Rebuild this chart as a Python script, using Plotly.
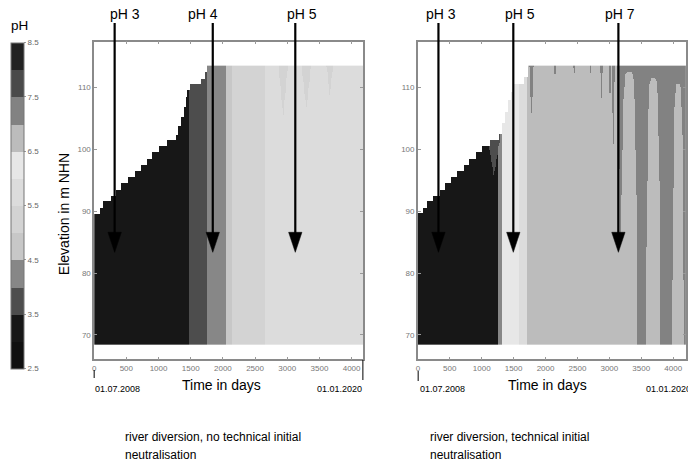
import numpy as np
import plotly.graph_objects as go

W, H = 688, 468
FONT = "Liberation Sans"

# ---------------- colour levels (pH) ----------------
ph_edges = [2.5, 3.0, 3.5, 4.0, 4.5, 5.0, 5.5, 6.0, 6.5, 7.0, 7.5, 8.0, 8.5]
ph_greys = ['#101010', '#171717', '#4d4d4d', '#878787', '#c7c7c7', '#d3d3d3',
            '#dcdcdc', '#e7e7e7', '#bcbcbc', '#828282', '#4a4a4a', '#222222']
cbar_ticks = [2.5, 3.5, 4.5, 5.5, 6.5, 7.5, 8.5]

day_ticks = [0, 500, 1000, 1500, 2000, 2500, 3000, 3500, 4000]
elev_ticks = [70, 80, 90, 100, 110]

# ---------------- left scenario: no technical initial neutralisation ----------------
left_step_day = [0, 87, 139, 257, 345, 422, 525, 628, 731, 824, 901, 1014, 1143,
                 1272, 1313, 1349, 1390, 1426, 1452, 1493, 1658, 1719, 1761]
left_step_lvl = [89.5, 90.5, 91.6, 92.5, 93.4, 94.5, 95.4, 96.4, 97.5, 98.4, 99.4,
                 100.4, 101.5, 102.3, 103.6, 105.3, 106.9, 108.5, 109.5, 110.4,
                 111.2, 112.5, 113.4]
left_band_start = [0, 1478, 1750, 2054, 2150, 2650]
left_band_ph = [3.2, 3.8, 4.2, 4.8, 5.3, 5.8]
# hanging plumes: centre day, half width, top level, tip level, pH
left_hang_c = [2940, 3300, 3665]
left_hang_w = [70, 70, 50]
left_hang_top = [113.4, 113.4, 113.4]
left_hang_tip = [105.0, 106.5, 108.7]
left_hang_ph = [5.3, 5.3, 5.3]
left_rise_c, left_rise_w, left_rise_top, left_rise_ph = [], [], [], []

# ---------------- right scenario: technical initial neutralisation ----------------
right_step_day = [0, 78, 140, 244, 337, 431, 519, 623, 727, 805, 908, 1012, 1127,
                  1272, 1320, 1370, 1420, 1460, 1505, 1661, 1729]
right_step_lvl = [89.6, 90.5, 91.6, 92.5, 93.4, 94.5, 95.4, 96.4, 97.5, 98.4, 99.4,
                  100.4, 101.5, 102.5, 104.3, 106.0, 107.8, 109.3, 110.4, 111.6, 113.4]
right_band_start = [0, 1246, 1324, 1583, 1713, 3120]
right_band_ph = [3.2, 4.2, 6.2, 5.8, 6.8, 7.2]
right_hang_c = [1190, 1780, 2150, 2450, 2700, 2880, 3010, 3065]
right_hang_w = [90, 35, 15, 20, 12, 18, 12, 25]
right_hang_top = [101.5, 113.4, 113.4, 113.4, 113.4, 113.4, 113.4, 113.4]
right_hang_tip = [95.5, 104.7, 111.5, 112.0, 111.5, 106.3, 106.0, 101.0]
right_hang_ph = [3.8, 7.2, 7.2, 7.2, 7.2, 7.2, 7.2, 7.2]
right_rise_c = [3150, 3310, 3690, 4080]
right_rise_w = [30, 135, 115, 90]
right_rise_top = [97.0, 112.5, 111.5, 110.5]
right_rise_ph = [6.8, 6.8, 6.8, 6.8]

BOTTOM = 68.5
days = np.arange(5, 4205, 10.0)
elev = np.arange(68.6, 113.5, 0.2)


def build(step_day, step_lvl, band_start, band_ph,
          hang_c, hang_w, hang_top, hang_tip, hang_ph,
          rise_c, rise_w, rise_top, rise_ph):
    surface = np.array(step_lvl)[np.searchsorted(step_day, days, side='right') - 1]
    col_ph = np.array(band_ph)[np.searchsorted(band_start, days, side='right') - 1]
    T, Y = np.meshgrid(days, elev)
    z = np.where(Y <= surface[None, :] + 1e-6, col_ph[None, :], np.nan)
    valid = ~np.isnan(z)
    for c, w, top, tip, p in zip(hang_c, hang_w, hang_top, hang_tip, hang_ph):
        frac = np.clip((Y - tip) / (top - tip), 0, 1)
        m = (Y >= tip) & (np.abs(T - c) <= w * frac) & valid
        z[m] = p
    for c, w, top, p in zip(rise_c, rise_w, rise_top, rise_ph):
        frac = np.clip((top - Y) / (top - BOTTOM), 0, 1) ** 0.2
        m = (Y <= top) & (np.abs(T - c) <= w * frac) & valid
        z[m] = p
    z = np.round(z, 2)
    return np.where(np.isnan(z), None, z).tolist()


z_left = build(left_step_day, left_step_lvl, left_band_start, left_band_ph,
               left_hang_c, left_hang_w, left_hang_top, left_hang_tip, left_hang_ph,
               left_rise_c, left_rise_w, left_rise_top, left_rise_ph)
z_right = build(right_step_day, right_step_lvl, right_band_start, right_band_ph,
                right_hang_c, right_hang_w, right_hang_top, right_hang_tip, right_hang_ph,
                right_rise_c, right_rise_w, right_rise_top, right_rise_ph)

n = len(ph_greys)
colorscale = []
for i, col in enumerate(ph_greys):
    colorscale.append([i / n, col])
    colorscale.append([(i + 1) / n, col])


def px(x):
    return x / W


def py(y):
    return 1 - y / H


fig = go.Figure()
fig.add_trace(go.Heatmap(
    x=days, y=elev, z=z_left, zmin=2.5, zmax=8.5, colorscale=colorscale,
    zsmooth=False, hoverongaps=False, xaxis='x', yaxis='y', showscale=True,
    colorbar=dict(x=px(9), xanchor='left', y=py((42.7 + 368.3) / 2), yanchor='middle',
                  len=326, lenmode='pixels', thickness=13, thicknessmode='pixels',
                  xpad=0, ypad=0, outlinewidth=1, outlinecolor='#777',
                  tickvals=cbar_ticks, ticktext=[f"{v:.1f}" for v in cbar_ticks],
                  tickfont=dict(size=8, color='#666', family=FONT),
                  ticks='outside', ticklen=2, tickcolor='#999')))
fig.add_trace(go.Heatmap(
    x=days, y=elev, z=z_right, zmin=2.5, zmax=8.5, colorscale=colorscale,
    zsmooth=False, hoverongaps=False, xaxis='x2', yaxis='y2', showscale=False))

axis_common = dict(showline=True, linecolor='#8a8a8a', linewidth=1.5, mirror='ticks',
                   ticks='inside', ticklen=3, tickcolor='#999', showgrid=False,
                   zeroline=False, tickfont=dict(size=8, color='#777', family=FONT))
ydom = [py(359.3), py(41.7)]
yrange = [66.07, 117.37]
fig.update_layout(
    width=W, height=H, margin=dict(l=0, r=0, t=0, b=0),
    paper_bgcolor='white', plot_bgcolor='white', showlegend=False,
    font=dict(family=FONT, color='black'),
    xaxis=dict(domain=[px(92.7), px(363.3)], range=[0, 4180], tickvals=day_ticks,
               anchor='y', **axis_common),
    yaxis=dict(domain=ydom, range=yrange, tickvals=elev_ticks, anchor='x', **axis_common),
    xaxis2=dict(domain=[px(418.3), 1.0], range=[0, 4201], tickvals=day_ticks,
                anchor='y2', **axis_common),
    yaxis2=dict(domain=ydom, range=yrange, tickvals=elev_ticks, anchor='x2', **axis_common),
)

ann = []


def text(s, x, y, size, xanchor='center', angle=0, color='black'):
    ann.append(dict(text=s, x=px(x), y=py(y), xref='paper', yref='paper',
                    xanchor=xanchor, yanchor='middle', showarrow=False, textangle=angle,
                    font=dict(size=size, color=color, family=FONT)))


# arrow labels and arrows
arrow_x = [113.3, 212.0, 295.0, 439.0, 514.3, 620.0]
label_x = [124, 202, 302, 442, 521, 622]
label_s = ["pH 3", "pH 4", "pH 5", "pH 3", "pH 5", "pH 7"]
shapes = []
for ax_, lx, s in zip(arrow_x, label_x, label_s):
    text(s, lx, 14, 14)
    shapes.append(dict(type='line', xref='paper', yref='paper', x0=px(ax_), x1=px(ax_),
                       y0=py(23), y1=py(236), line=dict(color='black', width=2.2)))
    shapes.append(dict(type='path', xref='paper', yref='paper',
                       path=f"M{px(ax_ - 6.7)},{py(232.3)} L{px(ax_ + 6.7)},{py(232.3)} "
                            f"L{px(ax_)},{py(252.3)} Z",
                       fillcolor='black', line=dict(color='black', width=0.5)))

# date markers
date_lines = [(92.7, 370, 378), (363.0, 360, 380), (418.6, 371, 381)]
for x, y0, y1 in date_lines:
    shapes.append(dict(type='line', xref='paper', yref='paper', x0=px(x), x1=px(x),
                       y0=py(y0), y1=py(y1), line=dict(color='black', width=1)))
text("01.07.2008", 91.7, 389.3, 9, 'left')
text("01.01.2020", 364.3, 389.3, 9, 'right')
text("01.07.2008", 418.0, 389.3, 9, 'left')
text("01.01.2020", 646.0, 389.3, 9, 'left')

text("Time in days", 220.5, 385, 14)
text("Time in days", 549, 385, 14)
text("Elevation in m NHN", 62.5, 214, 14, angle=-90)
text("pH", 18, 25, 13.5)

text("river diversion, no technical initial", 122, 437, 12, 'left')
text("neutralisation", 122, 455, 12, 'left')
text("river diversion, technical initial", 428, 437, 12, 'left')
text("neutralisation", 428, 455, 12, 'left')

fig.update_layout(annotations=ann, shapes=shapes)
fig.write_html("out.html",
               config={'displayModeBar': False},
               post_script="document.body.style.margin='0px';"
                           "document.body.style.overflow='hidden';")
